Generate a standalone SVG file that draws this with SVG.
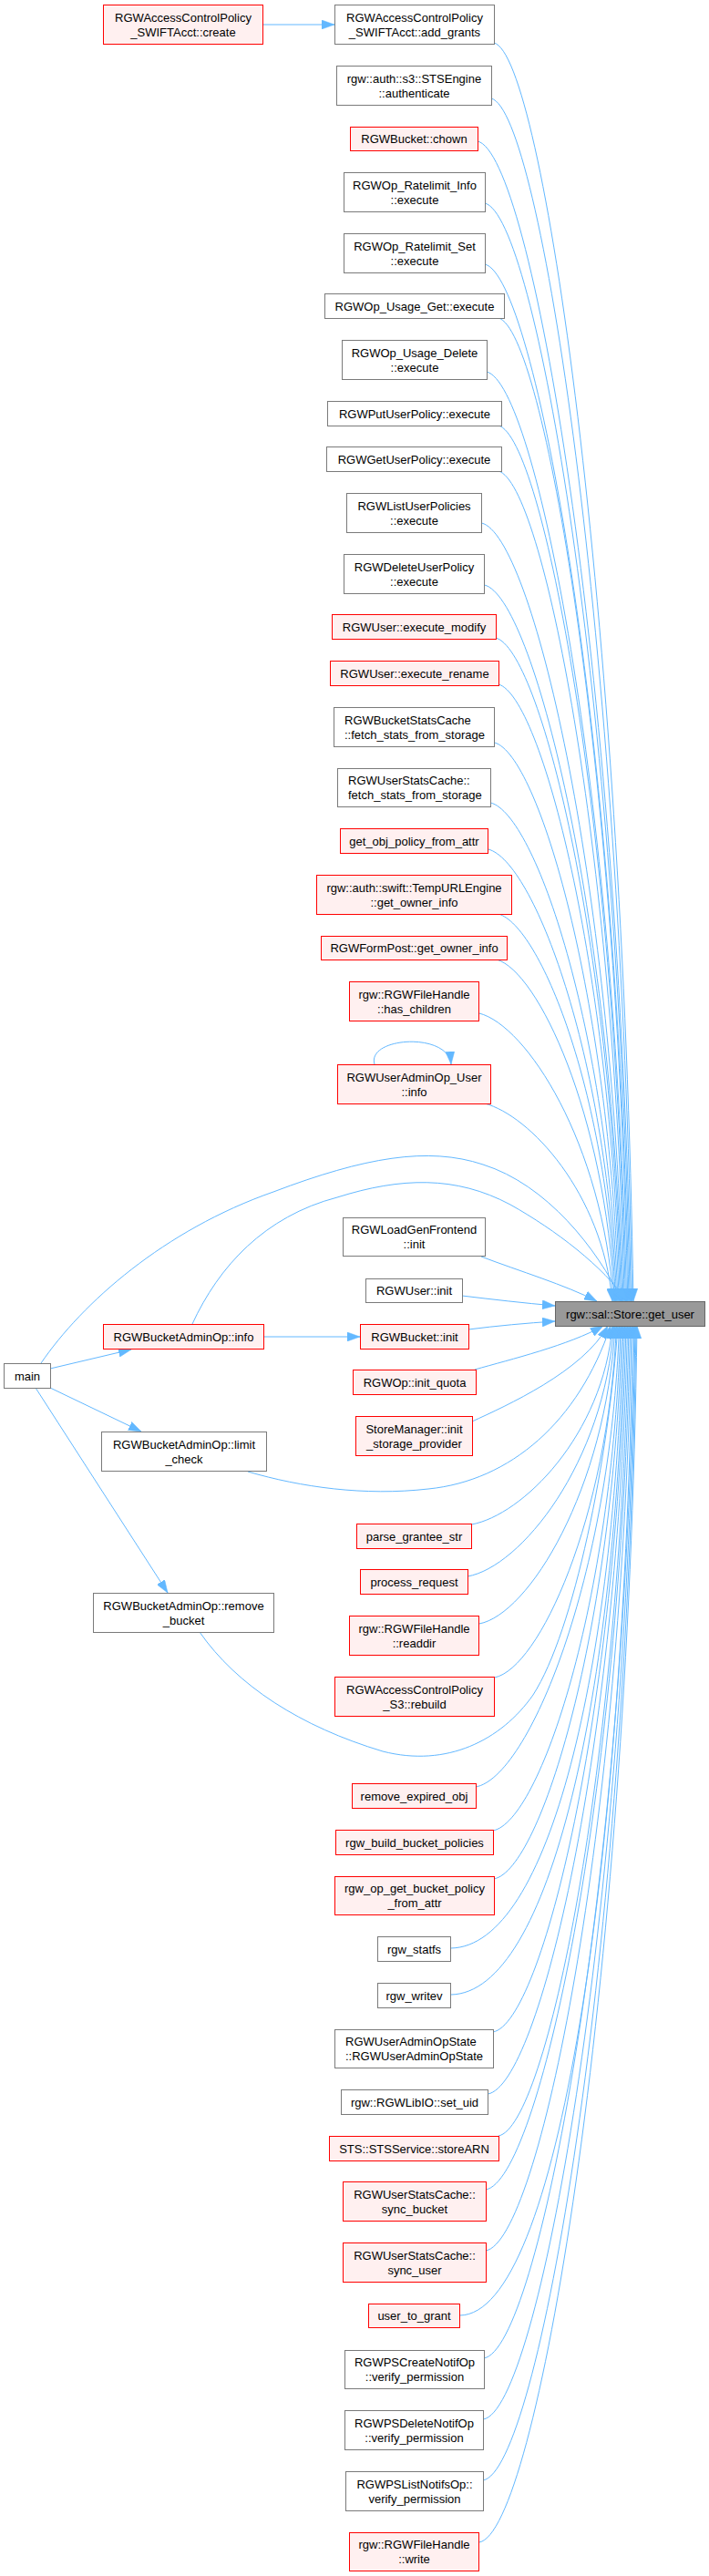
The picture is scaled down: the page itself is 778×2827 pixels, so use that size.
<svg xmlns="http://www.w3.org/2000/svg" width="778" height="2827" viewBox="0 0 778 2827">
<style>
rect{stroke-width:1}
.g{fill:#ffffff;stroke:#7a7a7a}
.r{fill:#fff0f0;stroke:#ff0000}
.t{fill:#999999;stroke:#666666}
text{font-family:"Liberation Sans",Arial,sans-serif;font-size:13px;fill:#000;text-anchor:middle}
text.l{text-anchor:start}
.e path{fill:none;stroke:#63b8ff;stroke-width:1;marker-end:url(#ah)}
</style>
<defs>
<marker id="ah" viewBox="0 0 14 10" refX="14" refY="5" markerWidth="14" markerHeight="10" markerUnits="userSpaceOnUse" orient="auto">
<path d="M0,0 L14,5 L0,10 z" fill="#63b8ff" stroke="#63b8ff" stroke-width="0.5"/>
</marker>
</defs>
<rect width="778" height="2827" fill="#ffffff"/>
<g id="edges" class="e">
<path d="M288,27 L367,27"/>
<path d="M542,47 C595.6,60 682.8,668.5 695,1428"/>
<path d="M539,108 C593.1,121 681.2,702 693.6,1428"/>
<path d="M524,155 C582.9,168 678.9,727.9 692.4,1428"/>
<path d="M532,223 C587.7,236 678.5,765.3 691.2,1428"/>
<path d="M532,290 C587.3,303 677.4,802.1 690,1428"/>
<path d="M547,349 C596.6,362 677.5,834.6 688.8,1428"/>
<path d="M534,408 C587.8,421 675.3,867 687.6,1428"/>
<path d="M547,467 C595.8,480 675.2,899.5 686.4,1428"/>
<path d="M547,517 C595.4,530 674.1,927 685.2,1428"/>
<path d="M528.5,574 C582.9,587 671.6,958.3 684,1428"/>
<path d="M531.6,642 C584.5,655 670.7,995.7 682.8,1428"/>
<path d="M544,700 C592.2,713 670.6,1027.6 681.6,1428"/>
<path d="M547,751 C593.7,764 669.7,1055.7 680.4,1428"/>
<path d="M542.7,815 C590.5,828 668.3,1090.9 679.2,1428"/>
<path d="M538.5,881 C587.3,894 666.8,1127.2 678,1428"/>
<path d="M535.8,932 C585.2,945 665.5,1155.2 676.8,1428"/>
<path d="M547,1003 C592,1016 665.3,1194.3 675.6,1428"/>
<path d="M545,1053 C590.3,1066 664,1221.8 674.4,1428"/>
<path d="M525.8,1112 C577.4,1125 661.4,1254.2 673.2,1428"/>
<path d="M532,1211 C581,1224 660.8,1308.7 672,1428"/>
<path d="M411,1168 C402,1138 492,1132 495,1168"/>
<path d="M45,1496 C90,1430 180,1350 300,1308 C400,1270 470,1258 530,1278 C600,1300 655,1370 683,1428"/>
<path d="M211,1453 C240,1390 290,1335 370,1314 C440,1292 500,1290 560,1322 C610,1350 662,1390 688,1428"/>
<path d="M528,1379 C570,1395 620,1410 655,1428"/>
<path d="M507,1422 C540,1426 575,1430 609,1433"/>
<path d="M514,1459 C545,1455 578,1452 609,1450"/>
<path d="M289,1467 L395,1467"/>
<path d="M55,1502 L144,1481"/>
<path d="M55,1523 L155,1571"/>
<path d="M39,1523 L184,1748"/>
<path d="M521,1503 C560,1492 625,1476 662,1455"/>
<path d="M518,1560 C555,1543 640,1505 667,1455"/>
<path d="M272,1615 C330,1632 400,1642 470,1634 C560,1625 635,1560 670,1455"/>
<path d="M517.4,1673 C572.9,1663 662,1575 672,1455"/>
<path d="M513,1730 C570.8,1720 663.5,1606 673.5,1455"/>
<path d="M525.8,1782 C579.8,1772 665,1635 675,1455"/>
<path d="M542.7,1841 C591.5,1831 667,1667 676.5,1455"/>
<path d="M219,1791 C260,1850 330,1895 420,1922 C490,1940 550,1910 585,1860 C630,1790 668,1600 678,1455"/>
<path d="M522,1961 C579.4,1951 670,1733 679.5,1455"/>
<path d="M541,2009 C592.5,1999 672,1760 681,1455"/>
<path d="M542,2062 C593.8,2052 673.5,1789 682.5,1455"/>
<path d="M494.8,2138 C603,2136 674,1831 684,1455"/>
<path d="M494.8,2189 C604,2187 675.5,1859 685.5,1455"/>
<path d="M541,2230 C595,2220 677,1881 687,1455"/>
<path d="M535.4,2298 C591.6,2288 678.5,1919 688.5,1455"/>
<path d="M547,2344 C599.5,2334 680,1944 690,1455"/>
<path d="M533,2403 C590.8,2393 681.5,1976 691.5,1455"/>
<path d="M533,2470 C591,2460 683,2013 693,1455"/>
<path d="M504.8,2541 C611.9,2539 684.5,2052 694.5,1455"/>
<path d="M531,2588 C590.5,2578 686,2078 696,1455"/>
<path d="M530.4,2655 C590.5,2645 687,2115 697,1455"/>
<path d="M530,2722 C590.6,2712 688,2152 698,1455"/>
<path d="M525.8,2790 C588.2,2780 689,2189 699,1455"/>
</g>
<g id="n1"><rect class="r" x="113.5" y="5.5" width="175" height="43"/><text x="201" y="23.5">RGWAccessControlPolicy</text><text x="201" y="39.5">_SWIFTAcct::create</text></g>
<g id="n2"><rect class="g" x="367.5" y="5.5" width="175" height="43"/><text x="455" y="23.5">RGWAccessControlPolicy</text><text x="455" y="39.5">_SWIFTAcct::add_grants</text></g>
<g id="n3"><rect class="g" x="369.5" y="72.5" width="170" height="43"/><text x="454.5" y="90.7">rgw::auth::s3::STSEngine</text><text x="454.5" y="106.7">::authenticate</text></g>
<g id="n4"><rect class="r" x="384.5" y="139.5" width="140" height="26"/><text x="454.5" y="157">RGWBucket::chown</text></g>
<g id="n5"><rect class="g" x="377.5" y="189.5" width="155" height="43"/><text x="455" y="207.7">RGWOp_Ratelimit_Info</text><text x="455" y="223.7">::execute</text></g>
<g id="n6"><rect class="g" x="377.5" y="256.5" width="155" height="43"/><text x="455" y="274.7">RGWOp_Ratelimit_Set</text><text x="455" y="290.7">::execute</text></g>
<g id="n7"><rect class="g" x="356.5" y="322.5" width="197" height="27"/><text x="455" y="340.5">RGWOp_Usage_Get::execute</text></g>
<g id="n8"><rect class="g" x="375.5" y="373.5" width="159" height="43"/><text x="455" y="391.7">RGWOp_Usage_Delete</text><text x="455" y="407.7">::execute</text></g>
<g id="n9"><rect class="g" x="359.5" y="440.5" width="191" height="27"/><text x="455" y="458.5">RGWPutUserPolicy::execute</text></g>
<g id="n10"><rect class="g" x="358.5" y="490.5" width="192" height="27"/><text x="454.5" y="508.5">RGWGetUserPolicy::execute</text></g>
<g id="n11"><rect class="g" x="380.5" y="541.5" width="148" height="43"/><text x="454.5" y="559.7">RGWListUserPolicies</text><text x="454.5" y="575.7">::execute</text></g>
<g id="n12"><rect class="g" x="377.5" y="608.5" width="154" height="43"/><text x="454.5" y="626.7">RGWDeleteUserPolicy</text><text x="454.5" y="642.7">::execute</text></g>
<g id="n13"><rect class="r" x="364.5" y="674.5" width="180" height="27"/><text x="454.5" y="692.5">RGWUser::execute_modify</text></g>
<g id="n14"><rect class="r" x="362.5" y="725.5" width="185" height="27"/><text x="455" y="743.5">RGWUser::execute_rename</text></g>
<g id="n15"><rect class="g" x="366.5" y="776.5" width="176" height="43"/><text class="l" x="378" y="794.7">RGWBucketStatsCache</text><text class="l" x="378" y="810.7">::fetch_stats_from_storage</text></g>
<g id="n16"><rect class="g" x="370.5" y="843.5" width="168" height="42"/><text class="l" x="382" y="861.2">RGWUserStatsCache::</text><text class="l" x="382" y="877.2">fetch_stats_from_storage</text></g>
<g id="n17"><rect class="r" x="373.5" y="909.5" width="162" height="27"/><text x="454.5" y="927.5">get_obj_policy_from_attr</text></g>
<g id="n18"><rect class="r" x="347.5" y="960.5" width="214" height="43"/><text x="454.5" y="978.7">rgw::auth::swift::TempURLEngine</text><text x="454.5" y="994.7">::get_owner_info</text></g>
<g id="n19"><rect class="r" x="352.5" y="1027.5" width="204" height="26"/><text x="454.5" y="1045">RGWFormPost::get_owner_info</text></g>
<g id="n20"><rect class="r" x="383.5" y="1077.5" width="142" height="43"/><text x="454.5" y="1095.7">rgw::RGWFileHandle</text><text x="454.5" y="1111.7">::has_children</text></g>
<g id="n21"><rect class="r" x="370.5" y="1168.5" width="168" height="43"/><text x="454.5" y="1186.7">RGWUserAdminOp_User</text><text x="454.5" y="1202.7">::info</text></g>
<g id="n22"><rect class="g" x="376.5" y="1336.5" width="156" height="42"/><text x="454.5" y="1354.2">RGWLoadGenFrontend</text><text x="454.5" y="1370.2">::init</text></g>
<g id="n23"><rect class="g" x="401.5" y="1403.5" width="106" height="26"/><text x="454.5" y="1421">RGWUser::init</text></g>
<g id="target"><rect class="t" x="609.5" y="1428.5" width="164" height="27"/><text x="691.5" y="1446.5">rgw::sal::Store::get_user</text></g>
<g id="n24"><rect class="r" x="113.5" y="1453.5" width="176" height="27"/><text x="201.5" y="1471.5">RGWBucketAdminOp::info</text></g>
<g id="n25"><rect class="r" x="395.5" y="1453.5" width="119" height="27"/><text x="455" y="1471.5">RGWBucket::init</text></g>
<g id="n26"><rect class="g" x="4.5" y="1496.5" width="51" height="27"/><text x="30" y="1514.5">main</text></g>
<g id="n27"><rect class="r" x="387.5" y="1503.5" width="135" height="27"/><text x="455" y="1521.5">RGWOp::init_quota</text></g>
<g id="n28"><rect class="r" x="390.5" y="1554.5" width="128" height="43"/><text x="454.5" y="1572.7">StoreManager::init</text><text x="454.5" y="1588.7">_storage_provider</text></g>
<g id="n29"><rect class="g" x="111.5" y="1571.5" width="181" height="43"/><text x="202" y="1589.7">RGWBucketAdminOp::limit</text><text x="202" y="1605.7">_check</text></g>
<g id="n30"><rect class="r" x="391.5" y="1672.5" width="126" height="27"/><text x="454.5" y="1690.5">parse_grantee_str</text></g>
<g id="n31"><rect class="r" x="395.5" y="1722.5" width="118" height="27"/><text x="454.5" y="1740.5">process_request</text></g>
<g id="n32"><rect class="g" x="102.5" y="1748.5" width="198" height="43"/><text x="201.5" y="1766.7">RGWBucketAdminOp::remove</text><text x="201.5" y="1782.7">_bucket</text></g>
<g id="n33"><rect class="r" x="383.5" y="1773.5" width="142" height="43"/><text x="454.5" y="1791.7">rgw::RGWFileHandle</text><text x="454.5" y="1807.7">::readdir</text></g>
<g id="n34"><rect class="r" x="367.5" y="1840.5" width="175" height="43"/><text x="455" y="1858.7">RGWAccessControlPolicy</text><text x="455" y="1874.7">_S3::rebuild</text></g>
<g id="n35"><rect class="r" x="386.5" y="1957.5" width="136" height="27"/><text x="454.5" y="1975.5">remove_expired_obj</text></g>
<g id="n36"><rect class="r" x="368.5" y="2008.5" width="173" height="27"/><text x="455" y="2026.5">rgw_build_bucket_policies</text></g>
<g id="n37"><rect class="r" x="367.5" y="2059.5" width="175" height="42"/><text x="455" y="2077.2">rgw_op_get_bucket_policy</text><text x="455" y="2093.2">_from_attr</text></g>
<g id="n38"><rect class="g" x="414.5" y="2125.5" width="80" height="27"/><text x="454.5" y="2143.5">rgw_statfs</text></g>
<g id="n39"><rect class="g" x="414.5" y="2176.5" width="80" height="27"/><text x="454.5" y="2194.5">rgw_writev</text></g>
<g id="n40"><rect class="g" x="367.5" y="2227.5" width="174" height="42"/><text class="l" x="379" y="2245.2">RGWUserAdminOpState</text><text class="l" x="379" y="2261.2">::RGWUserAdminOpState</text></g>
<g id="n41"><rect class="g" x="374.5" y="2293.5" width="161" height="27"/><text x="455" y="2311.5">rgw::RGWLibIO::set_uid</text></g>
<g id="n42"><rect class="r" x="361.5" y="2344.5" width="186" height="27"/><text x="454.5" y="2362.5">STS::STSService::storeARN</text></g>
<g id="n43"><rect class="r" x="376.5" y="2394.5" width="157" height="43"/><text x="455" y="2412.7">RGWUserStatsCache::</text><text x="455" y="2428.7">sync_bucket</text></g>
<g id="n44"><rect class="r" x="376.5" y="2461.5" width="157" height="43"/><text x="455" y="2479.7">RGWUserStatsCache::</text><text x="455" y="2495.7">sync_user</text></g>
<g id="n45"><rect class="r" x="404.5" y="2528.5" width="100" height="26"/><text x="454.5" y="2546">user_to_grant</text></g>
<g id="n46"><rect class="g" x="378.5" y="2579.5" width="153" height="42"/><text x="455" y="2597.2">RGWPSCreateNotifOp</text><text x="455" y="2613.2">::verify_permission</text></g>
<g id="n47"><rect class="g" x="378.5" y="2645.5" width="152" height="43"/><text x="454.5" y="2663.7">RGWPSDeleteNotifOp</text><text x="454.5" y="2679.7">::verify_permission</text></g>
<g id="n48"><rect class="g" x="379.5" y="2712.5" width="151" height="43"/><text x="455" y="2730.7">RGWPSListNotifsOp::</text><text x="455" y="2746.7">verify_permission</text></g>
<g id="n49"><rect class="r" x="383.5" y="2779.5" width="142" height="42"/><text x="454.5" y="2797.2">rgw::RGWFileHandle</text><text x="454.5" y="2813.2">::write</text></g>
</svg>
